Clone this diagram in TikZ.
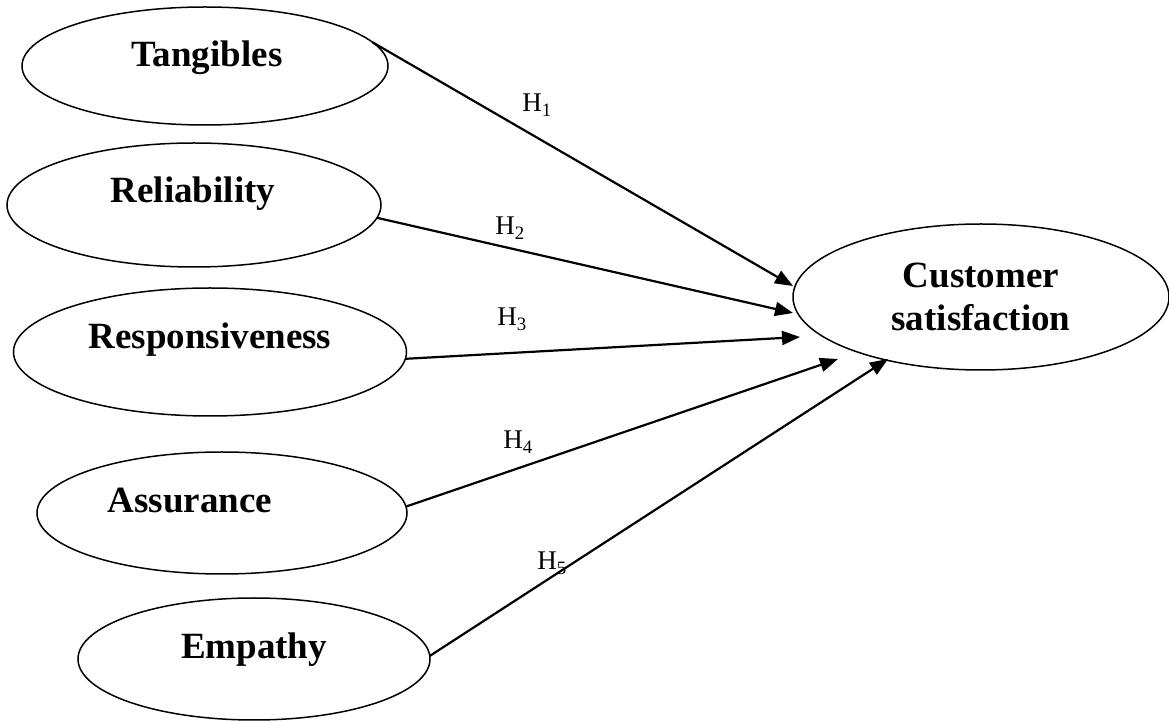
\documentclass[tikz,border=0pt]{standalone}
\usepackage{fontspec}
\setmainfont{Liberation Serif}
\usetikzlibrary{arrows.meta, shapes.geometric}

\begin{document}
\begin{tikzpicture}[x=0.5pt, y=-0.5pt,
    oval/.style={draw, ellipse, line width=0.75pt, inner sep=0pt, outer sep=0pt},
    dimfont/.style={font=\fontsize{18.5}{21.5}\selectfont\bfseries},
    dim/.style={dimfont, anchor=base},
    hyp/.style={font=\fontsize{13.5}{16}\selectfont, anchor=base west, inner sep=0pt},
    link/.style={line width=1.1pt, -{Triangle[length=9pt, width=7pt]}}]

  \useasboundingbox (0,0) rectangle (1169,721);

  % service quality dimensions
  \foreach \nm/\x/\y/\w/\h/\tx/\ty/\txt in {
      tan/205/66/183/59/207/67/Tangibles,
      rel/194/205/187/62/193/203/Reliability,
      res/210/352/196.5/64/210/349/Responsiveness,
      ass/222/513/185/61/190/513/Assurance,
      emp/254/659/176/61/254/659/Empathy} {
    \node[oval, minimum width=\w pt, minimum height=\h pt] (\nm) at (\x,\y) {};
    \node[dim] (\nm-t) at (\tx,\ty) {\txt};
  }

  % outcome
  \node[oval, dimfont, align=center, minimum width=188pt, minimum height=73pt]
    (cs) at (981,297) {Customer\\satisfaction};

  % hypotheses
  \foreach \src/\ang/\x/\y/\lx/\ly [count=\i] in {
      tan/8/793/286/522/112,
      rel/-4/793/313/495/235,
      res/-2/800/337/497/326,
      ass/2/838/359/503/449,
      emp/1/888/359/537/570} {
    \coordinate (p\i) at (\x,\y);
    \draw[link] (\src.\ang) -- (p\i);
    \node[hyp] (h\i) at (\lx,\ly) {H\textsubscript{\i}};
  }

\end{tikzpicture}
\end{document}
